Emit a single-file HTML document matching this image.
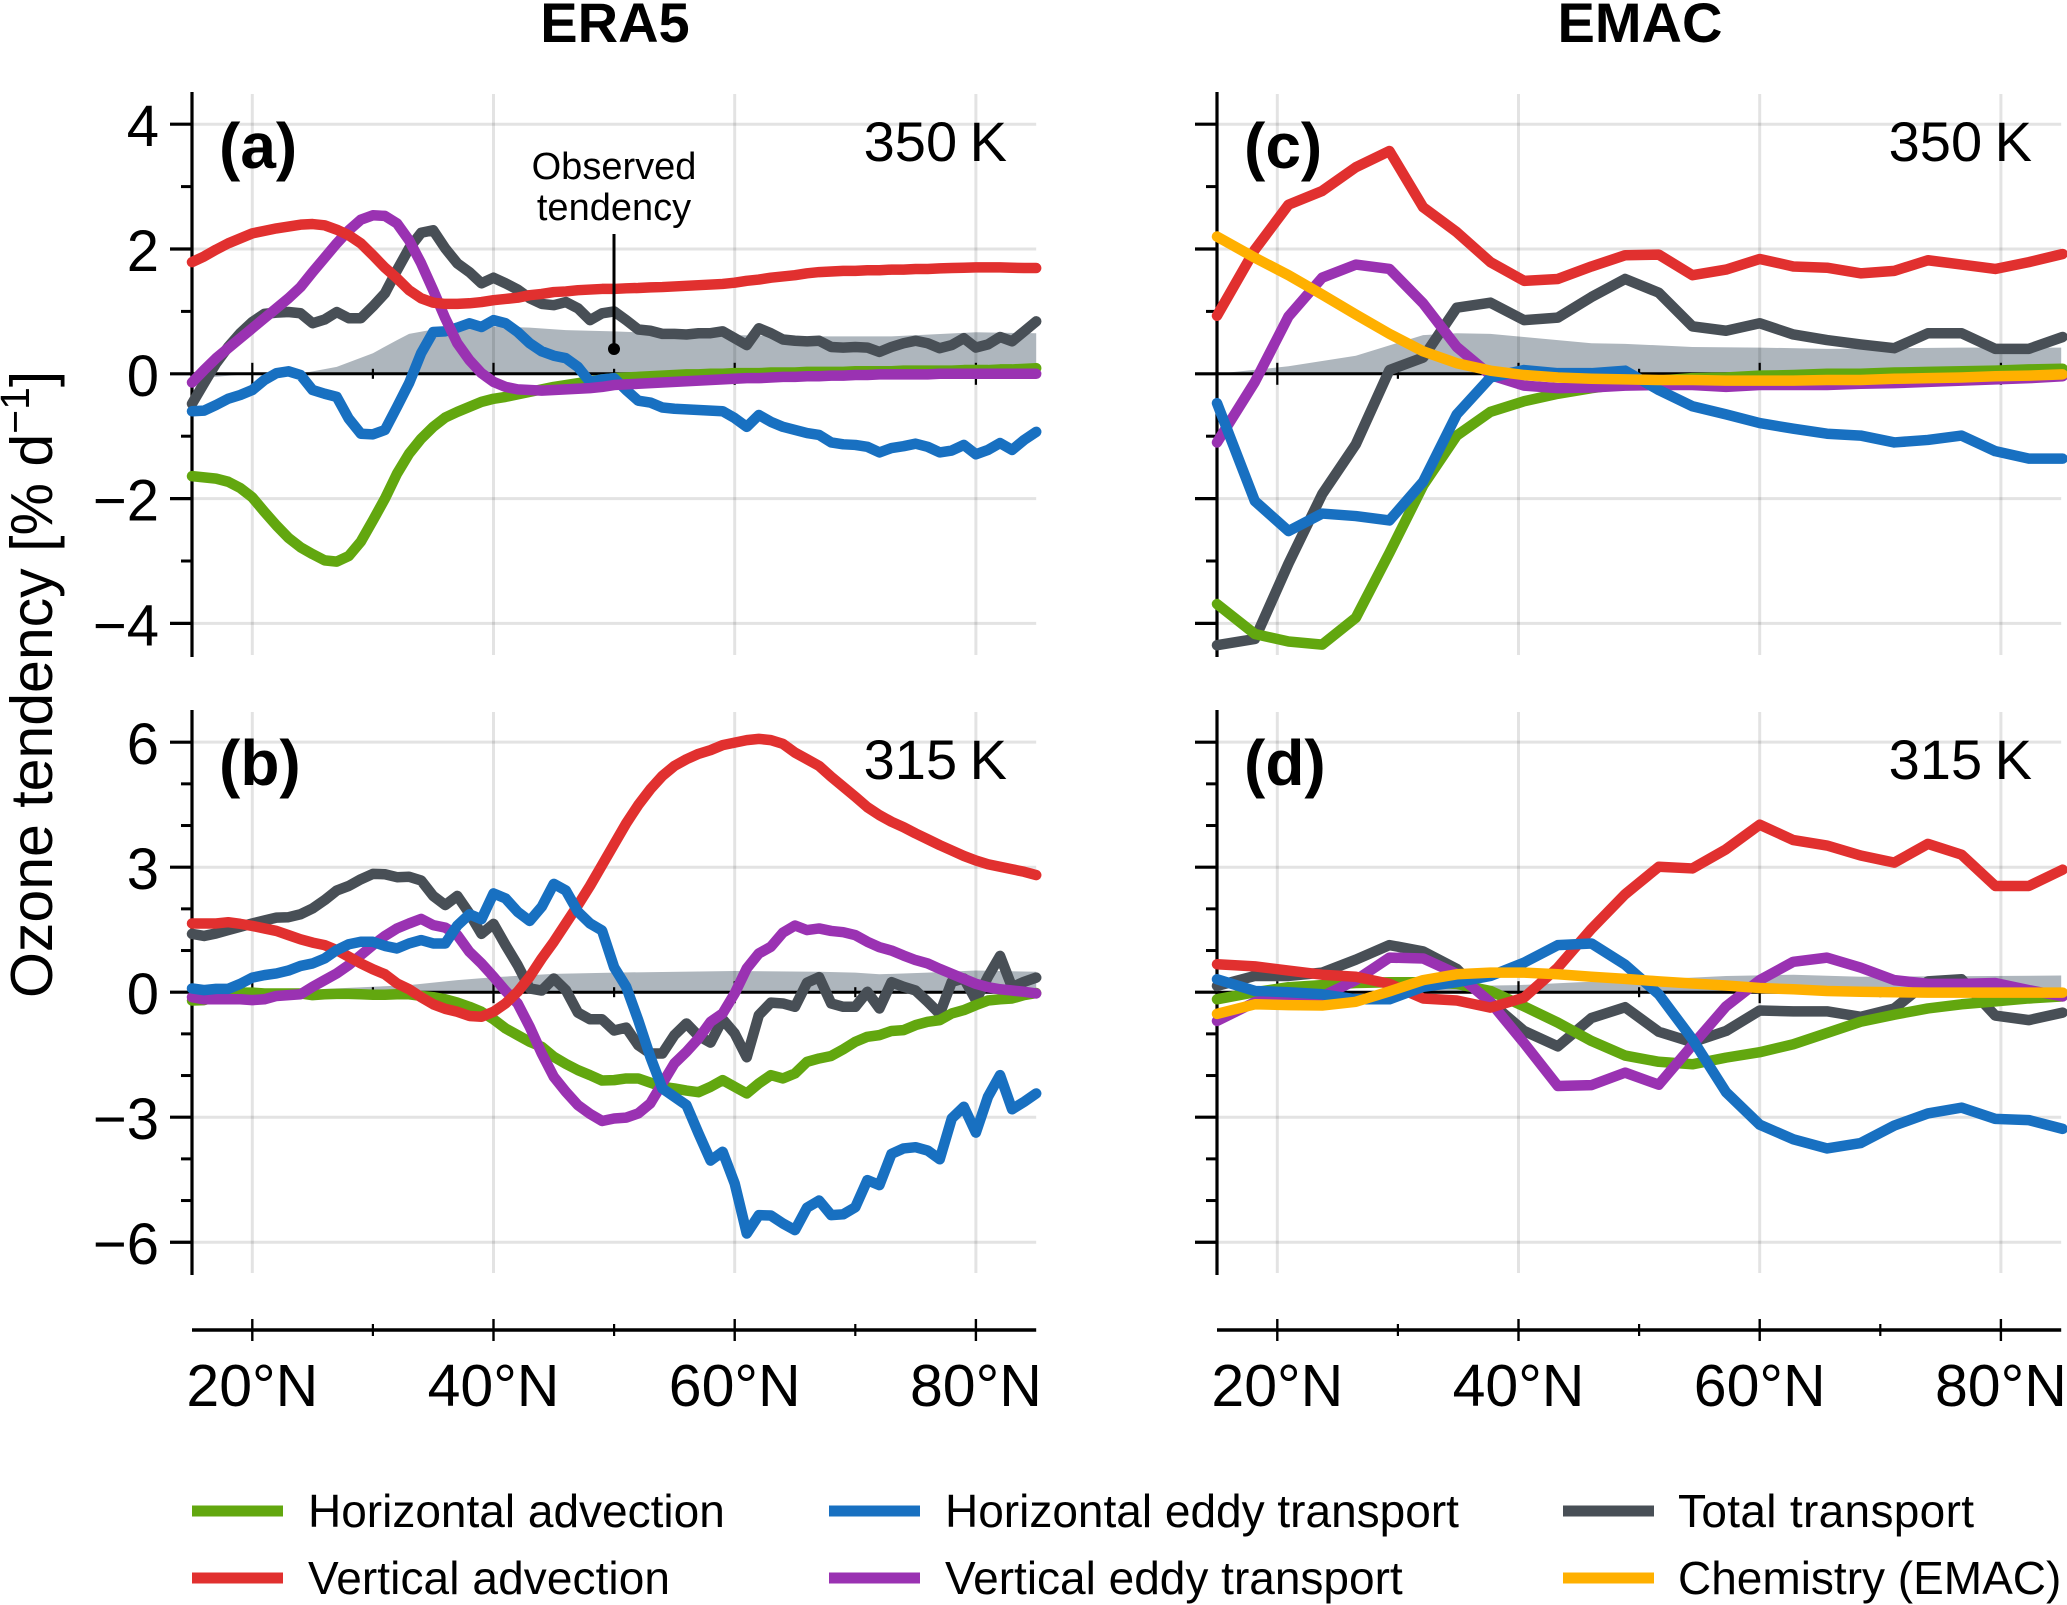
<!DOCTYPE html>
<html lang="en">
<head>
<meta charset="utf-8">
<title>Ozone tendency budget: ERA5 and EMAC</title>
<style>
html,body{margin:0;padding:0;background:#fff;}
svg{display:block;font-family:"Liberation Sans",Arial,sans-serif;fill:#000;}
</style>
</head>
<body>
<svg id="chart" xmlns="http://www.w3.org/2000/svg" width="2067" height="1605" viewBox="0 0 2067 1605">
  <rect x="0" y="0" width="2067" height="1605" fill="#ffffff"/>
  <g id="plots"></g>

  <text x="615" y="42" font-size="56" font-weight="700" text-anchor="middle">ERA5</text>
  <text x="1640" y="42" font-size="56" font-weight="700" text-anchor="middle">EMAC</text>

  <text transform="translate(52 998) rotate(-90)" font-size="59">Ozone tendency [% d<tspan font-size="41" dy="-23">−1</tspan><tspan dy="23">]</tspan></text>

  <text x="219" y="168" font-size="64" font-weight="700">(a)</text>
  <text x="219" y="785" font-size="64" font-weight="700">(b)</text>
  <text x="1244" y="168" font-size="64" font-weight="700">(c)</text>
  <text x="1244" y="785" font-size="64" font-weight="700">(d)</text>

  <text x="1007" y="161" font-size="56" text-anchor="end" word-spacing="-3">350 K</text>
  <text x="1007" y="779" font-size="56" text-anchor="end" word-spacing="-3">315 K</text>
  <text x="2032" y="161" font-size="56" text-anchor="end" word-spacing="-3">350 K</text>
  <text x="2032" y="779" font-size="56" text-anchor="end" word-spacing="-3">315 K</text>

  <text x="614" y="179" font-size="38" text-anchor="middle">Observed</text>
  <text x="614" y="220" font-size="38" text-anchor="middle">tendency</text>
  <line x1="614" y1="234" x2="614" y2="349" stroke="#000" stroke-width="3"/>
  <circle cx="614" cy="349" r="6" fill="#000"/>

  <g>
    <line x1="192" x2="283" y1="1511" y2="1511" stroke="#62a70f" stroke-width="11"/>
    <text x="308" y="1527" font-size="46">Horizontal advection</text>
    <line x1="192" x2="283" y1="1578" y2="1578" stroke="#e1302f" stroke-width="11"/>
    <text x="308" y="1594" font-size="46" textLength="362">Vertical advection</text>
    <line x1="829" x2="920" y1="1511" y2="1511" stroke="#1870c1" stroke-width="11"/>
    <text x="945" y="1527" font-size="46">Horizontal eddy transport</text>
    <line x1="829" x2="920" y1="1578" y2="1578" stroke="#9a32b2" stroke-width="11"/>
    <text x="945" y="1594" font-size="46">Vertical eddy transport</text>
    <line x1="1563" x2="1654" y1="1511" y2="1511" stroke="#484f56" stroke-width="11"/>
    <text x="1678" y="1527" font-size="46" textLength="296">Total transport</text>
    <line x1="1563" x2="1654" y1="1578" y2="1578" stroke="#ffb000" stroke-width="11"/>
    <text x="1678" y="1594" font-size="46">Chemistry (EMAC)</text>
  </g>
</svg>
<script>
// ---------- categories ----------
const eraLat = [15,16,17,18,19,20,21,22,23,24,25,26,27,28,29,30,31,32,33,34,35,36,37,38,39,40,41,42,43,44,45,46,47,48,49,50,51,52,53,54,55,56,57,58,59,60,61,62,63,64,65,66,67,68,69,70,71,72,73,74,75,76,77,78,79,80,81,82,83,84,85];
const emacLat = [15,18.14,20.93,23.72,26.51,29.30,32.09,34.88,37.67,40.46,43.26,46.05,48.84,51.63,54.42,57.21,60,62.79,65.58,68.37,71.16,73.95,76.74,79.53,82.32,85.12];

// ---------- tick labels ----------
const xMajorTicks = [20,40,60,80];
const xMinorTicks = [30,50,70];
const yMajorAbove = [4,2,-2,-4];
const yMinorAbove = [3,1,-1,-3];
const yMajorBelow = [6,3,-3,-6];
const yMinorBelow = [5,4,2,1,-1,-2,-4,-5];
const yLabelsAbove = [4,2,0,-2,-4];
const yLabelsBelow = [6,3,0,-3,-6];

// ---------- observed tendency (grey area) ----------
const obs350EraLat = [15,20,24.5,27,30,32,33,35,37,40,43,46,50,55,60,66,73,80,85];
const obs350Era = [-0.08,0,0.02,0.11,0.33,0.54,0.64,0.71,0.74,0.76,0.74,0.70,0.68,0.64,0.62,0.60,0.60,0.665,0.65];
const obs315EraLat = [15,20,30,33,37,40,45,50,60,67,70,72,76,80,85];
const obs315Era = [0,0,0.13,0.17,0.29,0.36,0.44,0.47,0.51,0.49,0.47,0.43,0.47,0.52,0.49];
const obs350EmacLat = [15,20.93,26.51,32.09,34.88,37.67,40.46,46.05,48.84,54.42,60,65.58,71.16,76.74,85];
const obs350Emac = [0,0.12,0.29,0.62,0.65,0.64,0.59,0.49,0.48,0.43,0.42,0.40,0.41,0.42,0.42];
const obs315EmacLat = [15,30,32,35,40,45,50,54.42,57.21,62.79,68.37,85];
const obs315Emac = [0,0,0.03,0.15,0.17,0.24,0.29,0.35,0.39,0.42,0.37,0.40];

// ---------- panel (a) ERA5 350 K ----------
const a_hadv = [-1.64,-1.66,-1.68,-1.73,-1.83,-1.98,-2.21,-2.43,-2.63,-2.78,-2.89,-2.99,-3.01,-2.92,-2.69,-2.35,-2.0,-1.6,-1.28,-1.04,-.85,-.70,-.61,-.53,-.45,-.40,-.37,-.33,-.29,-.25,-.21,-.18,-.15,-.12,-.09,-.07,-.06,-.05,-.04,-.03,-.02,-.01,-.01,0,0,.01,.01,.01,.02,.02,.02,.03,.03,.03,.03,.04,.04,.04,.04,.05,.05,.05,.05,.05,.06,.06,.06,.07,.07,.08,.09];
const a_vadv = [1.79,1.88,1.99,2.09,2.17,2.25,2.29,2.33,2.36,2.39,2.40,2.38,2.31,2.22,2.09,1.90,1.70,1.53,1.34,1.21,1.14,1.12,1.12,1.13,1.15,1.18,1.20,1.22,1.26,1.28,1.31,1.32,1.34,1.35,1.36,1.36,1.37,1.375,1.385,1.39,1.40,1.41,1.42,1.43,1.44,1.46,1.49,1.51,1.54,1.56,1.58,1.61,1.63,1.64,1.65,1.65,1.66,1.66,1.67,1.67,1.68,1.68,1.69,1.695,1.70,1.705,1.705,1.705,1.70,1.695,1.695];
const a_heddy = [-.60,-.59,-.50,-.40,-.34,-.26,-.10,.01,.04,-.02,-.26,-.32,-.37,-.72,-.96,-.97,-.90,-.53,-.15,.33,.67,.68,.74,.81,.75,.86,.81,.67,.49,.36,.29,.25,.11,-.13,-.09,-.07,-.26,-.43,-.46,-.54,-.56,-.57,-.58,-.59,-.60,-.71,-.85,-.66,-.77,-.85,-.90,-.95,-.98,-1.10,-1.13,-1.14,-1.17,-1.26,-1.19,-1.16,-1.12,-1.17,-1.26,-1.23,-1.14,-1.29,-1.22,-1.11,-1.22,-1.06,-.93];
const a_veddy = [-.14,.06,.25,.41,.57,.73,.89,1.05,1.21,1.39,1.63,1.86,2.09,2.30,2.47,2.54,2.53,2.41,2.14,1.77,1.34,.89,.49,.22,.01,-.13,-.21,-.25,-.26,-.27,-.26,-.25,-.24,-.23,-.21,-.18,-.17,-.16,-.15,-.14,-.13,-.12,-.11,-.10,-.09,-.08,-.07,-.07,-.06,-.05,-.05,-.04,-.04,-.03,-.03,-.02,-.02,-.01,-.01,-.01,-.01,-.01,0,0,0,0,0,0,0,0,0];
const a_total = [-.48,-.15,.17,.43,.65,.83,.96,.98,.99,.97,.81,.87,.99,.89,.89,1.08,1.29,1.66,2.01,2.26,2.30,2.01,1.77,1.63,1.45,1.54,1.45,1.35,1.21,1.12,1.10,1.15,1.05,.86,.97,1.0,.86,.71,.69,.64,.64,.63,.65,.65,.68,.57,.46,.73,.65,.55,.53,.52,.53,.43,.42,.43,.42,.35,.43,.49,.53,.49,.41,.46,.57,.42,.47,.59,.52,.68,.84];

// ---------- panel (b) ERA5 315 K ----------
const b_hadv = [-.20,-.19,-.11,-.05,-.01,-.01,-.03,-.03,-.03,-.03,-.07,-.05,-.04,-.04,-.05,-.06,-.06,-.05,-.05,-.09,-.12,-.17,-.25,-.35,-.47,-.65,-.87,-1.03,-1.19,-1.31,-1.55,-1.72,-1.87,-1.99,-2.12,-2.11,-2.07,-2.07,-2.17,-2.27,-2.31,-2.36,-2.40,-2.27,-2.11,-2.27,-2.43,-2.19,-1.99,-2.07,-1.95,-1.67,-1.59,-1.53,-1.37,-1.19,-1.07,-1.03,-.93,-.91,-.79,-.71,-.67,-.51,-.43,-.31,-.20,-.17,-.15,-.07,-.02];
const b_vadv = [1.65,1.65,1.65,1.68,1.64,1.59,1.53,1.47,1.37,1.27,1.19,1.13,1.01,.85,.69,.55,.43,.21,.07,-.12,-.29,-.40,-.47,-.57,-.59,-.47,-.27,.01,.37,.81,1.21,1.65,2.09,2.55,3.05,3.55,4.05,4.49,4.87,5.19,5.43,5.59,5.72,5.81,5.93,5.99,6.05,6.08,6.05,5.96,5.75,5.59,5.43,5.17,4.93,4.69,4.44,4.25,4.09,3.96,3.81,3.67,3.53,3.40,3.27,3.16,3.07,3.01,2.95,2.89,2.81];
const b_heddy = [.09,.05,.08,.08,.20,.35,.41,.45,.52,.63,.69,.81,1.01,1.15,1.21,1.21,1.11,1.05,1.17,1.25,1.17,1.17,1.60,1.87,1.75,2.37,2.25,1.93,1.71,2.05,2.60,2.44,1.93,1.65,1.48,.60,.13,-.67,-1.55,-2.31,-2.51,-2.71,-3.39,-4.04,-3.83,-4.59,-5.79,-5.35,-5.36,-5.55,-5.71,-5.17,-5.00,-5.35,-5.33,-5.16,-4.51,-4.63,-3.88,-3.75,-3.72,-3.80,-4.01,-3.03,-2.75,-3.37,-2.51,-1.99,-2.81,-2.63,-2.43];
const b_veddy = [-.12,-.17,-.17,-.17,-.17,-.19,-.17,-.09,-.07,-.05,.13,.29,.45,.65,.89,1.13,1.35,1.53,1.65,1.76,1.61,1.55,1.37,.97,.69,.37,.03,-.27,-.83,-1.47,-2.03,-2.39,-2.71,-2.92,-3.09,-3.03,-3.01,-2.91,-2.67,-2.19,-1.71,-1.43,-1.11,-.71,-.51,-.03,.57,.93,1.09,1.43,1.60,1.49,1.53,1.47,1.44,1.37,1.21,1.08,1.00,.88,.77,.69,.56,.44,.32,.20,.12,.07,.04,.01,-.03];
const b_total = [1.40,1.35,1.41,1.49,1.57,1.65,1.72,1.79,1.80,1.87,2.01,2.21,2.44,2.55,2.71,2.84,2.83,2.76,2.77,2.68,2.31,2.09,2.31,1.89,1.40,1.64,1.13,.65,.09,.04,.33,.05,-.49,-.65,-.65,-.92,-.85,-1.27,-1.47,-1.47,-1.03,-.75,-1.05,-1.21,-.65,-.99,-1.56,-.55,-.25,-.27,-.35,.23,.36,-.27,-.35,-.35,.01,-.39,.24,.13,.04,-.23,-.52,.25,.33,-.19,.37,.87,.12,.25,.35];

// ---------- panel (c) EMAC 350 K ----------
const c_hadv = [-3.69,-4.17,-4.29,-4.34,-3.91,-2.87,-1.79,-.99,-.61,-.44,-.32,-.23,-.16,-.11,-.07,-.06,-.03,-.02,0,0,.02,.03,.04,.05,.07,.08];
const c_vadv = [.93,1.99,2.71,2.93,3.31,3.57,2.67,2.27,1.79,1.49,1.52,1.72,1.90,1.91,1.58,1.67,1.84,1.72,1.70,1.61,1.65,1.82,1.75,1.68,1.79,1.92];
const c_heddy = [-.47,-2.04,-2.52,-2.24,-2.28,-2.35,-1.73,-.65,-.06,.06,.01,.01,.05,-.26,-.52,-.65,-.79,-.88,-.96,-.99,-1.10,-1.06,-.99,-1.24,-1.36,-1.36];
const c_veddy = [-1.10,-.13,.92,1.54,1.75,1.68,1.13,.43,-.02,-.19,-.23,-.22,-.19,-.18,-.18,-.21,-.18,-.18,-.18,-.16,-.15,-.13,-.11,-.09,-.07,-.04];
const c_total = [-4.35,-4.25,-3.04,-1.93,-1.13,.06,.26,1.06,1.14,.86,.90,1.23,1.52,1.30,.76,.69,.81,.63,.54,.47,.41,.65,.65,.40,.40,.59];
const c_chem = [2.20,1.86,1.58,1.27,.95,.64,.36,.17,.05,-.02,-.06,-.08,-.09,-.10,-.10,-.11,-.11,-.11,-.10,-.10,-.08,-.07,-.06,-.04,-.03,-.01];

// ---------- panel (d) EMAC 315 K ----------
const d_hadv = [-.17,0,.12,.17,.22,.24,.24,.20,.03,-.34,-.73,-1.17,-1.52,-1.67,-1.73,-1.57,-1.44,-1.25,-.98,-.71,-.54,-.39,-.29,-.22,-.15,-.10];
const d_vadv = [.67,.62,.52,.42,.37,.20,-.15,-.20,-.37,-.13,.59,1.52,2.35,3.01,2.97,3.43,4.02,3.65,3.52,3.28,3.11,3.56,3.30,2.55,2.55,2.94];
const d_heddy = [.31,.03,0,-.05,-.17,-.17,.13,.24,.39,.71,1.13,1.17,.66,-.05,-1.13,-2.40,-3.18,-3.53,-3.75,-3.62,-3.20,-2.91,-2.77,-3.04,-3.07,-3.28];
const d_veddy = [-.69,-.24,-.10,-.10,.29,.83,.81,.44,-.24,-1.22,-2.25,-2.23,-1.93,-2.22,-1.27,-.34,.29,.73,.83,.59,.29,.20,.20,.22,.05,-.10];
const d_total = [.15,.39,.39,.47,.78,1.13,.98,.56,-.24,-.93,-1.30,-.62,-.36,-.95,-1.20,-.93,-.44,-.46,-.46,-.59,-.39,.26,.31,-.56,-.67,-.49];
const d_chem = [-.52,-.29,-.31,-.32,-.23,.02,.29,.43,.47,.47,.43,.37,.32,.26,.21,.16,.10,.07,.03,.01,0,-.01,-.01,-.01,-.01,-.01];

// ---------- axis functions and rendering ----------
const NS = 'http://www.w3.org/2000/svg';
const root = document.getElementById('plots');
const COL = {hadv:'#62a70f', vadv:'#e1302f', heddy:'#1870c1', veddy:'#9a32b2', total:'#484f56', chem:'#ffb000'};
const NAMES = {hadv:'horizontal-advection', vadv:'vertical-advection', heddy:'horizontal-eddy-transport', veddy:'vertical-eddy-transport', total:'total-transport', chem:'chemistry'};

function make(tag, attrs, parent) {
  const el = document.createElementNS(NS, tag);
  for (const k in attrs) el.setAttribute(k, attrs[k]);
  parent.appendChild(el);
  return el;
}

function drawPanel(p) {
  const group = make('g', {}, root);
  
  

  const xScale = function (lat) { return p.x15 + (lat - 15) * 12.06; };
  const yScale = function (v) { return p.y0 - v * p.unit; };
  const xEnd = xScale(85);

  // observed tendency area
  const areaPts = p.obsLat.map(function (lat, i) { return xScale(lat) + ',' + yScale(p.obs[i]); });
  areaPts.unshift(xScale(p.obsLat[0]) + ',' + p.y0);
  areaPts.push(xScale(p.obsLat[p.obsLat.length - 1]) + ',' + p.y0);
  const area = make('polygon', {points: areaPts.join(' '), fill: '#aeb6bd'}, group);
  
  

  // gridlines
  p.yMajor.forEach(function (v) {
    const g = make('line', {x1: p.x15, x2: xEnd, y1: yScale(v), y2: yScale(v), stroke: 'rgba(0,0,0,0.11)', 'stroke-width': 3}, group);
    
    
  });
  xMajorTicks.forEach(function (lat) {
    const g = make('line', {x1: xScale(lat), x2: xScale(lat), y1: p.top + 2, y2: p.bottom - 2, stroke: 'rgba(0,0,0,0.11)', 'stroke-width': 3}, group);
    
    
  });

  // zero line and its ticks
  const zero = make('line', {x1: p.x15, x2: xEnd, y1: p.y0, y2: p.y0, stroke: '#000', 'stroke-width': 3}, group);
  
  
  xMajorTicks.forEach(function (lat) {
    const t = make('line', {x1: xScale(lat), x2: xScale(lat), y1: p.y0 - 11, y2: p.y0 + 11, stroke: '#000', 'stroke-width': 2.2}, group);
    
    
  });
  xMinorTicks.forEach(function (lat) {
    const t = make('line', {x1: xScale(lat), x2: xScale(lat), y1: p.y0 - 5, y2: p.y0 + 5, stroke: '#000', 'stroke-width': 2.2}, group);
    
    
  });

  // y axis
  const axis = make('line', {x1: p.x15, x2: p.x15, y1: p.top, y2: p.bottom, stroke: '#000', 'stroke-width': 3.2}, group);
  
  
  p.yMajor.concat([0]).forEach(function (v) {
    const t = make('line', {x1: p.x15 - 22, x2: p.x15, y1: yScale(v), y2: yScale(v), stroke: '#000', 'stroke-width': 3.2}, group);
    
    
  });
  p.yMinor.forEach(function (v) {
    const t = make('line', {x1: p.x15 - 11, x2: p.x15, y1: yScale(v), y2: yScale(v), stroke: '#000', 'stroke-width': 3}, group);
    
    
  });
  p.yLabels.forEach(function (v) {
    const l = make('text', {x: p.x15 - 33, y: yScale(v) + 22, 'font-size': 58, 'text-anchor': 'end'}, group);
    l.textContent = String(v).replace('-', '\u2212');
    
    
  });

  // series
  p.series.forEach(function (s) {
    const pts = s.values.map(function (v, i) { return xScale(p.lat[i]) + ',' + yScale(v); }).join(' ');
    const line = make('polyline', {points: pts, fill: 'none', stroke: COL[s.key], 'stroke-width': 10.5, 'stroke-linejoin': 'round', 'stroke-linecap': 'round'}, group);
    
    
  });

  // bottom latitude axis
  if (p.xAxisY) {
    const xa = make('line', {x1: p.x15, x2: xEnd, y1: p.xAxisY, y2: p.xAxisY, stroke: '#000', 'stroke-width': 3.4}, group);
    
    
    xMajorTicks.forEach(function (lat) {
      const t = make('line', {x1: xScale(lat), x2: xScale(lat), y1: p.xAxisY - 11, y2: p.xAxisY + 11, stroke: '#000', 'stroke-width': 2.4}, group);
      
      
      const l = make('text', {x: xScale(lat), y: p.xAxisY + 76, 'font-size': 59, 'text-anchor': 'middle'}, group);
      l.textContent = lat + '\u00B0N';
      
      
    });
    xMinorTicks.forEach(function (lat) {
      const t = make('line', {x1: xScale(lat), x2: xScale(lat), y1: p.xAxisY - 6, y2: p.xAxisY + 6, stroke: '#000', 'stroke-width': 2.2}, group);
      
      
    });
  }
}

drawPanel({id:'a', x15:192, y0:373.8, unit:62.4, top:92, bottom:657, lat:eraLat, obsLat:obs350EraLat, obs:obs350Era,
  yMajor:yMajorAbove, yMinor:yMinorAbove, yLabels:yLabelsAbove,
  series:[{key:'total',values:a_total},{key:'hadv',values:a_hadv},{key:'heddy',values:a_heddy},{key:'veddy',values:a_veddy},{key:'vadv',values:a_vadv}]});
drawPanel({id:'b', x15:192, y0:992.2, unit:41.67, top:710, bottom:1275, xAxisY:1330, lat:eraLat, obsLat:obs315EraLat, obs:obs315Era,
  yMajor:yMajorBelow, yMinor:yMinorBelow, yLabels:yLabelsBelow,
  series:[{key:'total',values:b_total},{key:'hadv',values:b_hadv},{key:'veddy',values:b_veddy},{key:'vadv',values:b_vadv},{key:'heddy',values:b_heddy}]});
drawPanel({id:'c', x15:1217, y0:373.8, unit:62.4, top:92, bottom:657, lat:emacLat, obsLat:obs350EmacLat, obs:obs350Emac,
  yMajor:yMajorAbove, yMinor:yMinorAbove, yLabels:[],
  series:[{key:'total',values:c_total},{key:'hadv',values:c_hadv},{key:'veddy',values:c_veddy},{key:'vadv',values:c_vadv},{key:'heddy',values:c_heddy},{key:'chem',values:c_chem}]});
drawPanel({id:'d', x15:1217, y0:992.2, unit:41.67, top:710, bottom:1275, xAxisY:1330, lat:emacLat, obsLat:obs315EmacLat, obs:obs315Emac,
  yMajor:yMajorBelow, yMinor:yMinorBelow, yLabels:[],
  series:[{key:'total',values:d_total},{key:'hadv',values:d_hadv},{key:'veddy',values:d_veddy},{key:'vadv',values:d_vadv},{key:'heddy',values:d_heddy},{key:'chem',values:d_chem}]});
</script>
</body>
</html>
